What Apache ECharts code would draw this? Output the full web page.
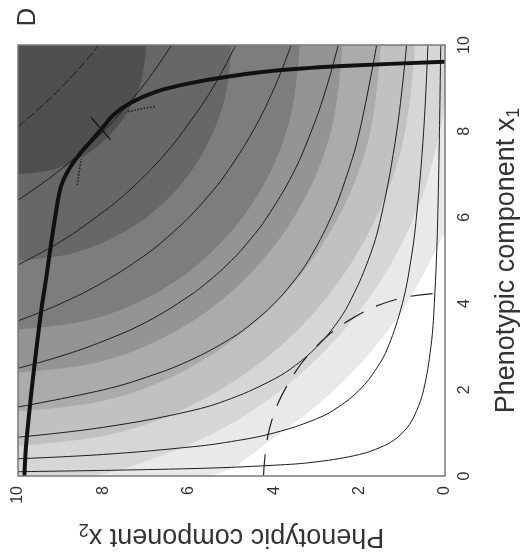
<!DOCTYPE html>
<html>
<head>
<meta charset="utf-8">
<script src="https://cdn.jsdelivr.net/npm/echarts@6/dist/echarts.min.js"></script>
<style>
  html, body { margin: 0; padding: 0; background: #fff; }
  #chart { width: 531px; height: 560px; }
</style>
</head>
<body>
<div id="chart"></div>
<script>
// every point is [x2, x1]: x2 runs along the bottom (reversed), x1 up the right side
const axisTicks = [0, 2, 4, 6, 8, 10];

// shaded fitness bands, outermost (lightest) first
const bandEdges = [
  [[0, 5.67], [0.96, 3.9], [2.29, 2.29], [3.9, 0.96], [5.67, 0], [10, 0]],
  [[0, 8.58], [0.51, 6.55], [1.48, 4.57], [2.86, 2.86], [4.57, 1.48], [6.55, 0.51], [8.58, 0], [10, 0]],
  [[0.7, 10], [1.02, 7.59], [1.95, 5.35], [3.42, 3.42], [5.35, 1.95], [7.59, 1.02], [10, 0.7]],
  [[1.5, 10], [1.79, 7.8], [2.64, 5.75], [3.99, 3.99], [5.75, 2.64], [7.8, 1.79], [10, 1.5]],
  [[2.4, 10], [2.66, 8.03], [3.42, 6.2], [4.63, 4.63], [6.2, 3.42], [8.03, 2.66], [10, 2.4]],
  [[3.4, 10], [3.63, 8.29], [4.28, 6.7], [5.33, 5.33], [6.7, 4.28], [8.29, 3.63], [10, 3.4]],
  [[5, 10], [5.17, 8.71], [5.67, 7.5], [6.46, 6.46], [7.5, 5.67], [8.71, 5.17], [10, 5]],
  [[7, 10], [7.1, 9.22], [7.4, 8.5], [7.88, 7.88], [8.5, 7.4], [9.22, 7.1], [10, 7]]
];
const bandShades = ['#e9e9e9', '#d6d6d6', '#c1c1c1', '#ababab', '#949494', '#7d7d7d', '#676767', '#4f4f4f'];

// thin contour curves
const iso1 = [[10, 0.1], [6, 0.17], [4, 0.25], [3, 0.33], [2, 0.5], [1.5, 0.67], [1.2, 0.83], [1, 1], [0.83, 1.2], [0.67, 1.5], [0.5, 2], [0.33, 3], [0.25, 4], [0.17, 6], [0.1, 10]];
const iso2 = [[10, 0.4], [8, 0.5], [6, 0.67], [5, 0.8], [4, 1], [3, 1.33], [2.5, 1.6], [2, 2], [1.6, 2.5], [1.33, 3], [1, 4], [0.8, 5], [0.67, 6], [0.5, 8], [0.4, 10]];
const iso3 = [[10, 0.9], [8, 1.13], [6, 1.5], [5, 1.8], [4, 2.25], [3.5, 2.57], [3, 3], [2.57, 3.5], [2.25, 4], [1.8, 5], [1.5, 6], [1.13, 8], [0.9, 10]];
const iso4 = [[10, 1.6], [8, 2], [7, 2.29], [6, 2.67], [5, 3.2], [4.5, 3.56], [4, 4], [3.56, 4.5], [3.2, 5], [2.67, 6], [2.29, 7], [2, 8], [1.6, 10]];
const iso5 = [[10, 2.5], [9, 2.78], [8, 3.13], [7, 3.57], [6, 4.17], [5.5, 4.55], [5, 5], [4.55, 5.5], [4.17, 6], [3.57, 7], [3.13, 8], [2.78, 9], [2.5, 10]];
const iso6 = [[10, 3.6], [9, 4], [8, 4.5], [7, 5.14], [6.5, 5.54], [6, 6], [5.54, 6.5], [5.14, 7], [4.5, 8], [4, 9], [3.6, 10]];
const iso7 = [[10, 4.9], [9, 5.44], [8, 6.13], [7.5, 6.53], [7, 7], [6.53, 7.5], [6.13, 8], [5.44, 9], [4.9, 10]];
const iso8 = [[10, 6.4], [9.5, 6.74], [9, 7.11], [8.5, 7.53], [8, 8], [7.53, 8.5], [7.11, 9], [6.74, 9.5], [6.4, 10]];
const iso9 = [[10, 8.1], [9.5, 8.53], [9, 9], [8.53, 9.5], [8.1, 10]];
const isoLines = [iso1, iso2, iso3, iso4, iso5, iso6, iso7, iso8, iso9];

// dashed curve round the origin
const dashedCurve = [[4.25, 0], [4.11, 1.1], [3.68, 2.13], [3.01, 3.01], [2.13, 3.68], [1.1, 4.11], [0, 4.25]];

// thick curve
const thickCurve = [
  [0, 9.61], [2.28, 9.52], [3.83, 9.42], [5.06, 9.27], [5.99, 9.11], [6.76, 8.92], [7.38, 8.65],
  [7.76, 8.38], [8.03, 8.07], [8.3, 7.76], [8.57, 7.45], [8.84, 7.06], [9.0, 6.7], [9.11, 6.13],
  [9.23, 5.36], [9.34, 4.59], [9.46, 3.81], [9.65, 2.27], [9.81, 0.72], [9.85, 0]
];

// arrow at the touching point, and two short dotted paths
const gradientArrow = [[7.83, 7.8], [8.29, 8.32]];
const dottedPathA = [[6.8, 8.57], [7.1, 8.52], [7.45, 8.45]];
const dottedPathB = [[8.61, 6.75], [8.57, 7.05], [8.52, 7.35]];

const font = 'Liberation Sans, Arial, Helvetica, sans-serif';
const chart = echarts.init(document.getElementById('chart'));

const series = [];
bandEdges.forEach((edge, i) => {
  series.push({
    type: 'line', data: edge, smooth: 0.35, symbol: 'none', silent: true, z: 1,
    lineStyle: { width: 0 },
    areaStyle: { origin: 'end', color: bandShades[i], opacity: 1 }
  });
});
isoLines.forEach((pts, i) => {
  series.push({
    type: 'line', data: pts, smooth: 0.4, symbol: 'none', silent: true, z: 3,
    lineStyle: { color: '#1c1c1c', width: 1, type: i === 8 ? [9, 3] : 'solid' }
  });
});
series.push({
  type: 'line', data: dashedCurve, smooth: 0.4, symbol: 'none', silent: true, z: 3,
  lineStyle: { color: '#222', width: 1.2, type: [22, 14] }
});
series.push({
  type: 'line', data: thickCurve, smooth: 0.3, symbol: 'none', silent: true, z: 4,
  lineStyle: { color: '#111', width: 4 }
});
series.push({
  type: 'lines', coordinateSystem: 'cartesian2d', polyline: true, silent: true, z: 5,
  symbol: ['none', 'arrow'], symbolSize: 9,
  lineStyle: { color: '#111', width: 1.3, opacity: 1 },
  data: [{ coords: gradientArrow }]
});
series.push({
  type: 'lines', coordinateSystem: 'cartesian2d', polyline: true, silent: true, z: 5,
  symbol: ['none', 'arrow'], symbolSize: 6,
  lineStyle: { color: '#222', width: 1.6, type: 'dotted', opacity: 1 },
  data: [{ coords: dottedPathA }, { coords: dottedPathB }]
});

chart.setOption({
  animation: false,
  backgroundColor: '#fff',
  grid: { left: 18, right: 80, top: 45, bottom: 84, show: true, borderColor: '#7a7a7a', borderWidth: 1.5, backgroundColor: 'transparent', z: 10 },
  xAxis: {
    type: 'value', min: axisTicks[0], max: axisTicks[axisTicks.length - 1], interval: 2, inverse: true,
    axisLine: { show: false }, axisTick: { show: false }, splitLine: { show: false },
    axisLabel: { rotate: 90, fontSize: 16, color: '#333', fontFamily: font, margin: 10 },
    name: '{t|Phenotypic component x}{s|2}', nameLocation: 'middle', nameGap: 44, nameRotate: 180,
    nameTextStyle: {
      fontFamily: font, color: '#333',
      rich: { t: { fontSize: 27, fontFamily: font, color: '#333' }, s: { fontSize: 18, fontFamily: font, color: '#333', padding: [14, 0, 0, 0] } }
    }
  },
  yAxis: {
    type: 'value', position: 'right', min: axisTicks[0], max: axisTicks[axisTicks.length - 1], interval: 2,
    axisLine: { show: false }, axisTick: { show: false }, splitLine: { show: false },
    axisLabel: { rotate: 90, fontSize: 16, color: '#333', fontFamily: font, margin: 12 },
    name: '{t|Phenotypic component x}{s|1}', nameLocation: 'middle', nameGap: 46, nameRotate: 90,
    nameTextStyle: {
      fontFamily: font, color: '#333',
      rich: { t: { fontSize: 27, fontFamily: font, color: '#333' }, s: { fontSize: 18, fontFamily: font, color: '#333', padding: [14, 0, 0, 0] } }
    }
  },
  graphic: [{
    type: 'text', x: 28, y: 17, rotation: Math.PI / 2,
    style: { text: 'D', fontSize: 26, fontFamily: font, fill: '#333', align: 'center', verticalAlign: 'middle' }
  }],
  series: series
});
</script>
</body>
</html>
